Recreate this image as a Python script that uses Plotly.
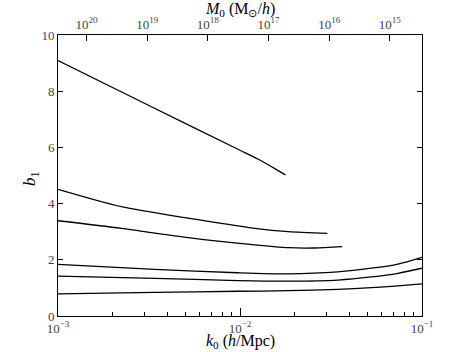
import plotly.graph_objects as go

# k0 values (h/Mpc) and bias b1 for each curve
k_a = [1e-3, 3.16e-3, 1.0e-2, 1.26e-2, 1.58e-2, 1.78e-2]
b_a = [9.09, 7.49, 5.90, 5.58, 5.22, 5.02]

k_b = [1e-3, 2.23e-3, 5.18e-3, 1.205e-2, 1.84e-2, 3.02e-2]
b_b = [4.51, 3.89, 3.48, 3.12, 3.00, 2.94]

k_c = [1e-3, 2.23e-3, 5.18e-3, 1.205e-2, 1.84e-2, 2.57e-2, 3.63e-2]
b_c = [3.39, 3.12, 2.79, 2.53, 2.43, 2.42, 2.47]

k_d = [1e-3, 3.40e-3, 9.75e-3, 1.84e-2, 3.45e-2, 5.27e-2, 7.38e-2, 1.0e-1]
b_d = [1.84, 1.66, 1.54, 1.50, 1.57, 1.70, 1.85, 2.09]

k_e = [1e-3, 3.40e-3, 9.75e-3, 1.84e-2, 3.45e-2, 5.27e-2, 7.38e-2, 1.0e-1]
b_e = [1.42, 1.34, 1.26, 1.24, 1.28, 1.39, 1.52, 1.70]

k_f = [1e-3, 3.40e-3, 9.75e-3, 1.84e-2, 3.45e-2, 5.27e-2, 7.38e-2, 1.0e-1]
b_f = [0.79, 0.84, 0.88, 0.90, 0.95, 1.01, 1.07, 1.14]

curves = [(k_a, b_a), (k_b, b_b), (k_c, b_c), (k_d, b_d), (k_e, b_e), (k_f, b_f)]

x_ticks = [1e-3, 1e-2, 1e-1]
x_ticktext = ["10<sup>\u22123</sup>", "10<sup>\u22122</sup>", "10<sup>\u22121</sup>"]
x_minor = [m * 10 ** e for e in (-3, -2) for m in range(2, 10)]
y_ticks = [0, 2, 4, 6, 8, 10]

# top axis: M0 = C * k0^-3
M_ticks = [1e20, 1e19, 1e18, 1e17, 1e16, 1e15]
M_ticktext = ["10<sup>20</sup>", "10<sup>19</sup>", "10<sup>18</sup>",
              "10<sup>17</sup>", "10<sup>16</sup>", "10<sup>15</sup>"]
logC = 11.47
M_range = [logC + 9, logC + 3]

x_title = "<i>k</i><sub>0</sub> (<i>h</i>/Mpc)"
x2_title = "<i>M</i><sub>0</sub> (M<sub>\u2299</sub>/<i>h</i>)"
y_title = "<i>b</i><sub>1</sub>"

FONT = "Liberation Serif"

fig = go.Figure()
for k, b in curves:
    fig.add_trace(go.Scatter(x=k, y=b, mode="lines",
                             line=dict(color="black", width=1.3, shape="spline", smoothing=0.7),
                             showlegend=False, hoverinfo="skip"))
fig.add_trace(go.Scatter(x=[10 ** M_range[0], 10 ** M_range[1]], y=[None, None],
                         xaxis="x2", mode="lines", showlegend=False, hoverinfo="skip"))

axis_common = dict(showgrid=False, zeroline=False, linecolor="black", linewidth=1,
                   automargin=False,
                   tickcolor="black", tickfont=dict(family=FONT, size=13, color="#444"))

fig.update_layout(
    width=469, height=352,
    margin=dict(l=58, r=47, t=35, b=36),
    paper_bgcolor="white", plot_bgcolor="white",
    font=dict(family=FONT, color="black"),
    xaxis=dict(type="log", range=[-3, -1], tickvals=x_ticks, ticktext=x_ticktext,
               ticks="inside", ticklen=8, mirror=True, showline=True,
               minor=dict(tickvals=x_minor, ticks="inside", ticklen=4, tickcolor="black"),
               **axis_common),
    xaxis2=dict(type="log", range=M_range, overlaying="x", side="top", anchor="y",
                tickvals=M_ticks, ticktext=M_ticktext, ticks="inside", ticklen=6,
                showline=True, **axis_common),
    yaxis=dict(range=[0, 10], tickvals=y_ticks, ticks="inside", ticklen=5,
               mirror="ticks", showline=True, **axis_common),
    annotations=[
        dict(text=x_title, x=0.5, y=-0.0925, xref="paper", yref="paper",
             xanchor="center", yanchor="middle", showarrow=False,
             font=dict(family=FONT, size=16, color="black")),
        dict(text=x2_title, x=0.5, y=1.0925, xref="paper", yref="paper",
             xanchor="center", yanchor="middle", showarrow=False,
             font=dict(family=FONT, size=16, color="black")),
        dict(text=y_title, x=-0.0742, y=0.491, xref="paper", yref="paper",
             xanchor="center", yanchor="middle", showarrow=False, textangle=-90,
             font=dict(family=FONT, size=17, color="black")),
    ],
)

fig.write_html("out.html", config={"responsive": False, "displayModeBar": False},
               post_script="document.body.style.margin='0';")
